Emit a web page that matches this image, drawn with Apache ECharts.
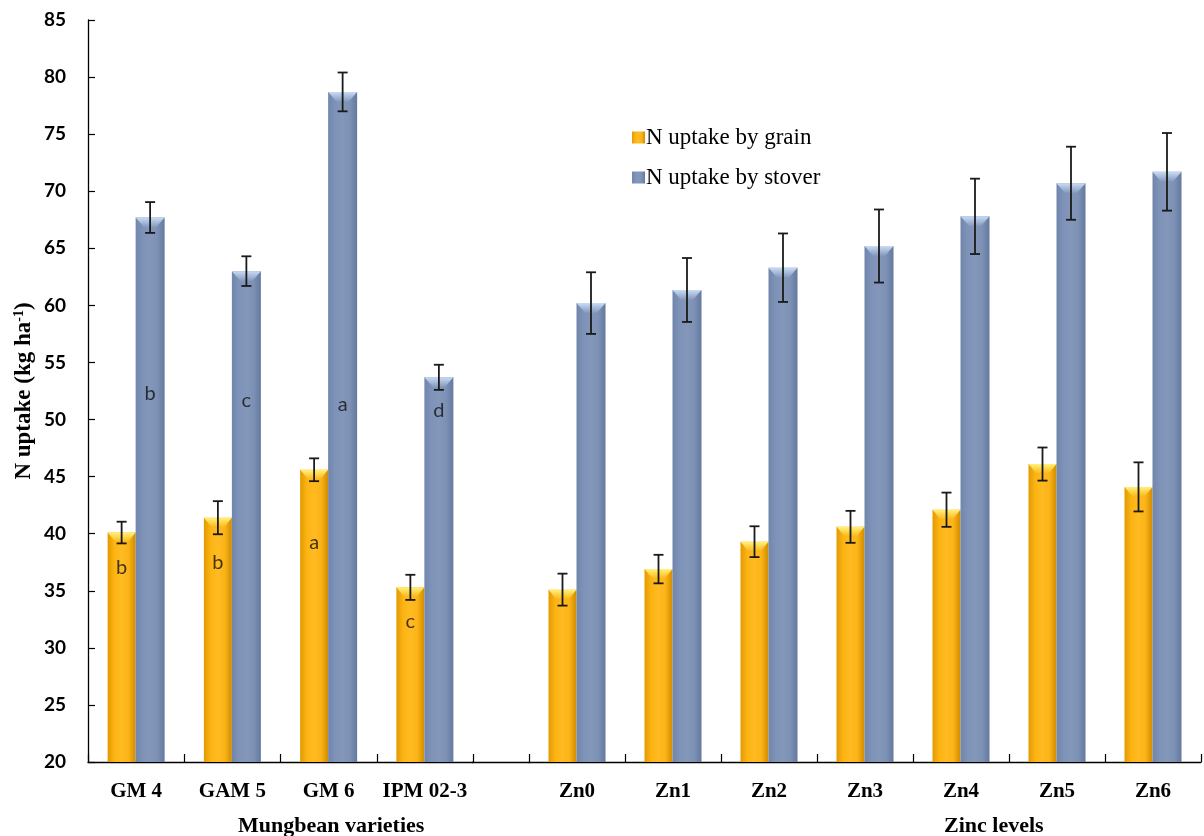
<!DOCTYPE html>
<html>
<head>
<meta charset="utf-8">
<title>N uptake by mungbean</title>
<script src="https://cdn.jsdelivr.net/npm/echarts@6/dist/echarts.min.js"></script>
<style>
  html, body { margin: 0; padding: 0; background: #fff; }
  #chart { width: 1204px; height: 836px; }
</style>
</head>
<body>
<div id="chart"></div>
<script>
// Categories of the two treatment groups
const varieties = ['GM 4', 'GAM 5', 'GM 6', 'IPM 02-3'];
const zincLevels = ['Zn0', 'Zn1', 'Zn2', 'Zn3', 'Zn4', 'Zn5', 'Zn6'];

// N uptake (kg/ha) and its error, mungbean varieties
const grainVar = [40.1, 41.4, 45.6, 35.3];
const grainVarErr = [0.95, 1.45, 1.0, 1.1];
const stoverVar = [67.7, 63.0, 78.7, 53.7];
const stoverVarErr = [1.35, 1.3, 1.7, 1.1];

// N uptake (kg/ha) and its error, zinc levels
const grainZn = [35.1, 36.9, 39.3, 40.6, 42.1, 46.1, 44.1];
const grainZnErr = [1.4, 1.25, 1.35, 1.4, 1.5, 1.45, 2.15];
const stoverZn = [60.2, 61.35, 63.3, 65.2, 67.8, 70.7, 71.7];
const stoverZnErr = [2.7, 2.8, 3.0, 3.2, 3.3, 3.2, 3.4];

// Significance letters for the varieties and the value where each is written
const grainLetters = ['b', 'b', 'a', 'c'];
const grainLetterAt = [37.0, 37.5, 39.2, 32.3];
const stoverLetters = ['b', 'c', 'a', 'd'];
const stoverLetterAt = [52.3, 51.7, 51.3, 50.8];

// Value axis
const yMin = 20, yMax = 85, yStep = 5;

const SERIF = '"Liberation Serif", "Times New Roman", serif';
const SANS = 'Lato, "Liberation Sans", Arial, sans-serif';

const GRAIN_W = 28, STOVER_W = 29;
const GRAIN_OFF = -(GRAIN_W + STOVER_W) / 2 + GRAIN_W / 2;
const STOVER_OFF = -(GRAIN_W + STOVER_W) / 2 + GRAIN_W + STOVER_W / 2;

function hGrad(stops) {
  return new echarts.graphic.LinearGradient(0, 0, 1, 0,
    stops.map((c, i) => ({ offset: i / (stops.length - 1), color: c })));
}
const grainFill = hGrad(['#E29A00', '#FDB414', '#FFBB22', '#FBB317', '#D18C00']);
const stoverFill = hGrad(['#7186AC', '#7F93B8', '#8397BB', '#7D91B5', '#6579A0']);

// Glossy cap plus error bar drawn on top of each bar
function overlay(offset, width, capTop, capBottom) {
  return function (params, api) {
    const i = api.value(0), v = api.value(1), e = api.value(2);
    const top = api.coord([i, v]);
    const x = top[0] + offset;
    const x0 = x - width / 2, x1 = x + width / 2;
    const y = top[1];
    const hi = api.coord([i, v + e])[1];
    const lo = api.coord([i, v - e])[1];
    const bevel = 10;
    return {
      type: 'group',
      children: [
        {
          type: 'polygon',
          shape: { points: [[x0, y], [x1, y], [x1 - width * 0.3, y + bevel], [x0 + width * 0.3, y + bevel]] },
          style: {
            fill: new echarts.graphic.LinearGradient(0, 0, 0, 1, [
              { offset: 0, color: capTop }, { offset: 1, color: capBottom }
            ])
          }
        },
        { type: 'line', shape: { x1: x, y1: hi, x2: x, y2: lo }, style: { stroke: '#1a1a1a', lineWidth: 1.8 } },
        { type: 'line', shape: { x1: x - 5, y1: hi, x2: x + 5, y2: hi }, style: { stroke: '#1a1a1a', lineWidth: 1.8 } },
        { type: 'line', shape: { x1: x - 5, y1: lo, x2: x + 5, y2: lo }, style: { stroke: '#1a1a1a', lineWidth: 1.8 } }
      ]
    };
  };
}

function triples(vals, errs) { return vals.map((v, i) => [i, v, errs[i]]); }

const xAxisCommon = {
  type: 'category',
  axisLine: { lineStyle: { color: '#000', width: 1.3 } },
  axisTick: { show: true, inside: true, interval: 0, length: 8, lineStyle: { color: '#000', width: 1.2 } },
  axisLabel: { interval: 0, color: '#000', fontFamily: SERIF, fontWeight: 'bold', fontSize: 21, margin: 19 }
};
const yAxisCommon = { type: 'value', min: yMin, max: yMax, interval: yStep, splitLine: { show: false } };

const letterLabel = (offset) => ({
  show: true, position: 'inside', offset: [offset, 0], color: '#111',
  fontFamily: SANS, fontSize: 20, formatter: (p) => p.data[2]
});

const option = {
  backgroundColor: '#fff',
  animation: false,
  grid: [
    { left: 88, top: 20, width: 385, height: 742 },
    { left: 529, top: 20, width: 672, height: 742 }
  ],
  xAxis: [
    Object.assign({ gridIndex: 0, data: varieties }, xAxisCommon),
    Object.assign({ gridIndex: 1, data: zincLevels }, xAxisCommon)
  ],
  yAxis: [
    Object.assign({
      gridIndex: 0,
      name: 'N uptake (kg ha{sup|-1})',
      nameLocation: 'middle',
      nameGap: 52,
      nameTextStyle: {
        color: '#000', fontFamily: SERIF, fontWeight: 'bold', fontSize: 23,
        rich: { sup: { fontFamily: SERIF, fontWeight: 'bold', fontSize: 14, color: '#000', verticalAlign: 'top', padding: [0, 0, 10, 0] } }
      },
      axisLine: { show: true, lineStyle: { color: '#000', width: 1.3 } },
      axisTick: { show: true, inside: true, length: 7, lineStyle: { color: '#000', width: 1.2 } },
      axisLabel: { color: '#000', fontFamily: SANS, fontWeight: 'bold', fontSize: 19, margin: 22 }
    }, yAxisCommon),
    Object.assign({ gridIndex: 1, show: false }, yAxisCommon)
  ],
  legend: {
    data: ['N uptake by grain', 'N uptake by stover'],
    orient: 'vertical',
    left: 627, top: 121,
    icon: 'rect',
    itemWidth: 13, itemHeight: 12, itemGap: 17,
    textStyle: { color: '#000', fontFamily: SERIF, fontSize: 23, padding: [0, 0, 0, -4] }
  },
  graphic: [
    // axis line segment bridging the two groups
    { type: 'line', shape: { x1: 472, y1: 762.5, x2: 530, y2: 762.5 }, style: { stroke: '#000', lineWidth: 1.3 }, z: 10 },
    { type: 'text', left: 238, top: 815, style: { text: 'Mungbean varieties', fill: '#000', font: 'bold 22px ' + SERIF } },
    { type: 'text', left: 944, top: 815, style: { text: 'Zinc levels', fill: '#000', font: 'bold 22px ' + SERIF } }
  ],
  series: [
    { name: 'N uptake by grain', type: 'bar', xAxisIndex: 0, yAxisIndex: 0, data: grainVar,
      barWidth: GRAIN_W, barGap: '0%', itemStyle: { color: grainFill } },
    { name: 'N uptake by stover', type: 'bar', xAxisIndex: 0, yAxisIndex: 0, data: stoverVar,
      barWidth: STOVER_W, barGap: '0%', itemStyle: { color: stoverFill } },
    { name: 'N uptake by grain', type: 'bar', xAxisIndex: 1, yAxisIndex: 1, data: grainZn,
      barWidth: GRAIN_W, barGap: '0%', itemStyle: { color: grainFill } },
    { name: 'N uptake by stover', type: 'bar', xAxisIndex: 1, yAxisIndex: 1, data: stoverZn,
      barWidth: STOVER_W, barGap: '0%', itemStyle: { color: stoverFill } },

    { type: 'custom', xAxisIndex: 0, yAxisIndex: 0, z: 5, silent: true,
      renderItem: overlay(GRAIN_OFF, GRAIN_W, '#FFF27A', '#FDB414'), data: triples(grainVar, grainVarErr) },
    { type: 'custom', xAxisIndex: 0, yAxisIndex: 0, z: 5, silent: true,
      renderItem: overlay(STOVER_OFF, STOVER_W, '#C9DBF5', '#8397BB'), data: triples(stoverVar, stoverVarErr) },
    { type: 'custom', xAxisIndex: 1, yAxisIndex: 1, z: 5, silent: true,
      renderItem: overlay(GRAIN_OFF, GRAIN_W, '#FFF27A', '#FDB414'), data: triples(grainZn, grainZnErr) },
    { type: 'custom', xAxisIndex: 1, yAxisIndex: 1, z: 5, silent: true,
      renderItem: overlay(STOVER_OFF, STOVER_W, '#C9DBF5', '#8397BB'), data: triples(stoverZn, stoverZnErr) },

    { type: 'scatter', xAxisIndex: 0, yAxisIndex: 0, symbolSize: 0, z: 6, silent: true,
      data: grainLetters.map((t, i) => [i, grainLetterAt[i], t]), label: letterLabel(GRAIN_OFF) },
    { type: 'scatter', xAxisIndex: 0, yAxisIndex: 0, symbolSize: 0, z: 6, silent: true,
      data: stoverLetters.map((t, i) => [i, stoverLetterAt[i], t]), label: letterLabel(STOVER_OFF) }
  ]
};

const chart = echarts.init(document.getElementById('chart'), null, { renderer: 'canvas' });
chart.setOption(option);
</script>
</body>
</html>
